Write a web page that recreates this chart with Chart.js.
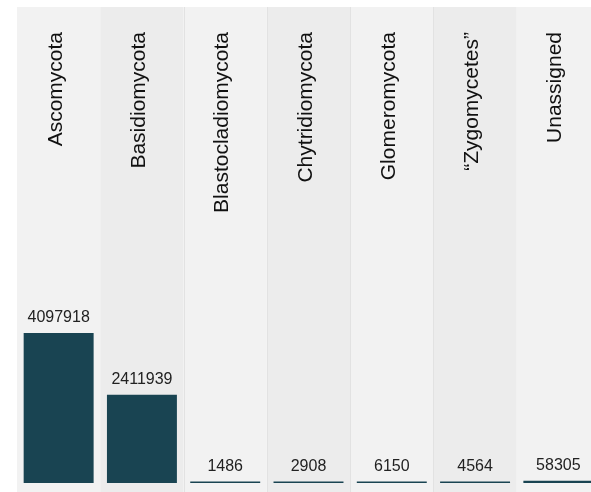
<!DOCTYPE html>
<html>
<head>
<meta charset="utf-8">
<script src="https://cdn.jsdelivr.net/npm/chart.js@4"></script>
<style>
    html, body { margin: 0; padding: 0; background: #ffffff; overflow: hidden; }
    #wrap { width: 600px; height: 492px; }
</style>
</head>
<body>
<div id="wrap"><canvas id="phylaChart" width="600" height="492"></canvas></div>
<script>
        // Data
        const categories = ['Ascomycota', 'Basidiomycota', 'Blastocladiomycota', 'Chytridiomycota', 'Glomeromycota', '\u201CZygomycetes\u201D', 'Unassigned'];
        const counts = [4097918, 2411939, 1486, 2908, 6150, 4564, 58305];
        const yMax = 13000000;

        const fontFamily = '"Liberation Sans", Arial, Helvetica, sans-serif';

        // Alternating column backgrounds, extended to the canvas bottom
        const columnBackground = {
            id: 'columnBackground',
            beforeDraw(chart) {
                const ctx = chart.ctx;
                const x = chart.scales.x;
                const area = chart.chartArea;
                const band = (x.right - x.left) / categories.length;
                ctx.save();
                categories.forEach((c, i) => {
                    const left = x.getPixelForValue(i) - band / 2;
                    ctx.fillStyle = i % 2 === 0 ? '#f2f2f2' : '#ececec';
                    ctx.fillRect(left, area.top, band, chart.height - area.top);
                });
                // thin dividers only between the middle columns
                ctx.fillStyle = '#e2e2e2';
                for (let i = 2; i <= 5; i++) {
                    const left = x.getPixelForValue(i) - band / 2;
                    ctx.fillRect(Math.round(left), area.top, 1, chart.height - area.top);
                }
                ctx.restore();
            }
        };

        // Rotated category names and value labels
        const textLabels = {
            id: 'textLabels',
            afterDatasetsDraw(chart) {
                const ctx = chart.ctx;
                const x = chart.scales.x;
                const area = chart.chartArea;
                const meta = chart.getDatasetMeta(0);
                ctx.save();
                ctx.fillStyle = '#111111';
                ctx.font = '21px ' + fontFamily;
                categories.forEach((c, i) => {
                    ctx.save();
                    ctx.translate(x.getPixelForValue(i) + 3, area.top + 25);
                    ctx.rotate(-Math.PI / 2);
                    ctx.textAlign = 'right';
                    ctx.textBaseline = 'alphabetic';
                    ctx.fillText(c, 0, 0);
                    ctx.restore();
                });
                ctx.font = '16px ' + fontFamily;
                ctx.fillStyle = '#222222';
                ctx.textAlign = 'center';
                ctx.textBaseline = 'alphabetic';
                meta.data.forEach((bar, i) => {
                    ctx.fillText(String(counts[i]), bar.x, bar.y - 11);
                });
                ctx.restore();
            }
        };

        const chartCtx = document.getElementById('phylaChart').getContext('2d');
        const phylaChart = new Chart(chartCtx, {
            type: 'bar',
            data: {
                labels: categories,
                datasets: [{
                    data: counts,
                    backgroundColor: '#194452',
                    borderWidth: 0,
                    minBarLength: 1.5,
                    categoryPercentage: 1,
                    barPercentage: 0.84
                }]
            },
            options: {
                responsive: false,
                animation: false,
                layout: {
                    padding: { top: 7, left: 17, right: 0, bottom: 9 }
                },
                plugins: {
                    legend: { display: false },
                    tooltip: { enabled: false }
                },
                scales: {
                    x: { display: false },
                    y: { display: false, min: 0, max: yMax }
                }
            },
            plugins: [columnBackground, textLabels]
        });
</script>
</body>
</html>
